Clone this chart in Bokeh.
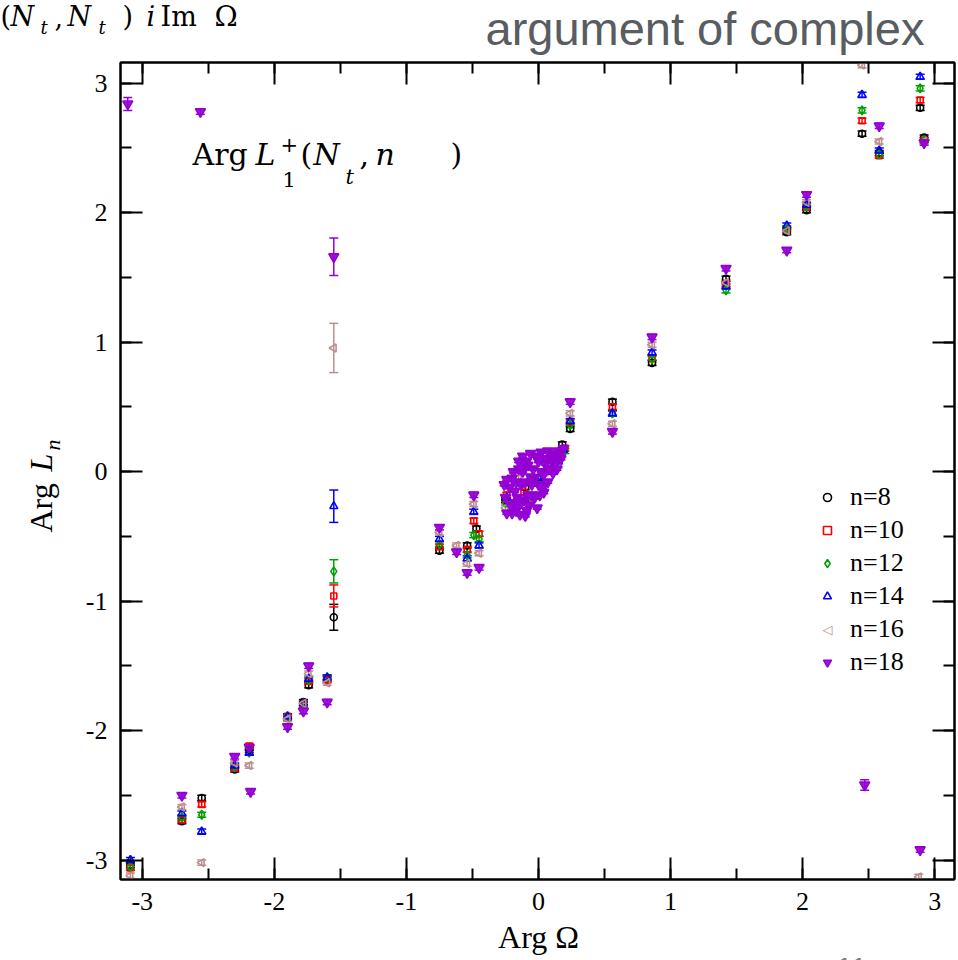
import numpy as np
from bokeh.plotting import figure
from bokeh.models import (Range1d, LinearAxis, SingleIntervalTicker, ColumnDataSource,
                          Whisker, TeeHead, Legend, LegendItem)
from bokeh.embed import file_html
from bokeh.resources import INLINE

# ---------------- data ----------------
labels = ["n=8", "n=10", "n=12", "n=14", "n=16", "n=18"]
colors = ["black", "#ff0000", "#00a000", "#0000ff", "#bc8f8f", "#9400d3"]

x_n8 = [-3.09, -2.70, -2.55, -2.30, -2.19, -1.90, -1.78, -1.74, -1.60, -1.55, -0.75, -0.54, -0.47, -0.25,
        -0.10, 0.00, 0.12, 0.18, 0.24, 0.56, 0.86, 1.42, 1.88, 2.03, 2.45, 2.58, 2.89, 2.92]
y_n8 = [-3.04, -2.70, -2.52, -2.30, -2.15, -1.90, -1.78, -1.65, -1.60, -1.125, -0.61, -0.57, -0.44, -0.22,
        -0.12, -0.05, 0.08, 0.21, 0.33, 0.54, 0.84, 1.49, 1.85, 2.02, 2.61, 2.46, 2.81, 2.58]
e_n8 = [0.02, 0.02, 0.02, 0.02, 0.02, 0.02, 0.02, 0.02, 0.02, 0.10, 0.02, 0.02, 0.02, 0.02,
        0.02, 0.02, 0.02, 0.02, 0.02, 0.02, 0.02, 0.02, 0.02, 0.02, 0.02, 0.02, 0.02, 0.02]

x_n10 = [-3.09, -2.70, -2.55, -2.30, -2.19, -1.90, -1.78, -1.74, -1.60, -1.55, -0.75, -0.54, -0.49, -0.45,
         -0.24, -0.11, 0.16, 0.20, 0.24, 0.56, 0.86, 1.42, 1.88, 2.03, 2.45, 2.58, 2.89, 2.92]
y_n10 = [-3.06, -2.69, -2.57, -2.29, -2.12, -1.89, -1.80, -1.62, -1.61, -0.96, -0.58, -0.60, -0.38, -0.48,
         -0.18, -0.16, 0.12, 0.18, 0.38, 0.50, 0.88, 1.45, 1.87, 2.04, 2.71, 2.44, 2.87, 2.56]
e_n10 = [0.02, 0.02, 0.02, 0.02, 0.02, 0.02, 0.02, 0.02, 0.02, 0.085, 0.02, 0.02, 0.02, 0.02,
         0.02, 0.02, 0.02, 0.02, 0.02, 0.02, 0.02, 0.02, 0.02, 0.02, 0.02, 0.02, 0.02, 0.02]

x_n12 = [-3.09, -2.70, -2.55, -2.30, -2.19, -1.90, -1.78, -1.74, -1.60, -1.55, -0.75, -0.54, -0.49, -0.45,
         -0.25, -0.05, 0.14, 0.20, 0.24, 0.56, 0.86, 1.42, 1.88, 2.03, 2.45, 2.58, 2.89, 2.92]
y_n12 = [-3.05, -2.67, -2.65, -2.28, -2.17, -1.90, -1.79, -1.61, -1.59, -0.77, -0.56, -0.645, -0.49, -0.52,
         -0.24, -0.20, 0.10, 0.16, 0.36, 0.45, 0.87, 1.40, 1.88, 2.05, 2.79, 2.45, 2.96, 2.56]
e_n12 = [0.02, 0.02, 0.02, 0.02, 0.02, 0.02, 0.02, 0.02, 0.02, 0.09, 0.02, 0.02, 0.02, 0.02,
         0.02, 0.02, 0.02, 0.02, 0.02, 0.02, 0.02, 0.02, 0.02, 0.02, 0.02, 0.02, 0.02, 0.02]

x_n14 = [-3.09, -2.70, -2.55, -2.30, -2.19, -1.90, -1.78, -1.74, -1.60, -1.55, -0.75, -0.54, -0.49, -0.45,
         -0.24, -0.10, 0.02, 0.15, 0.19, 0.24, 0.56, 0.86, 1.42, 1.88, 2.03, 2.45, 2.58, 2.89]
y_n14 = [-3.00, -2.64, -2.78, -2.27, -2.17, -1.89, -1.79, -1.60, -1.59, -0.267, -0.52, -0.67, -0.31, -0.57,
         -0.20, -0.22, -0.08, 0.08, 0.17, 0.39, 0.45, 0.92, 1.43, 1.90, 2.06, 2.91, 2.48, 3.05]
e_n14 = [0.02, 0.02, 0.02, 0.02, 0.02, 0.02, 0.02, 0.02, 0.02, 0.125, 0.02, 0.02, 0.02, 0.02,
         0.02, 0.02, 0.02, 0.02, 0.02, 0.02, 0.02, 0.02, 0.02, 0.02, 0.02, 0.02, 0.02, 0.02]

x_n16 = [-3.09, -2.70, -2.55, -2.30, -2.19, -1.90, -1.78, -1.74, -1.60, -1.55, -0.75, -0.62, -0.54, -0.49,
         -0.45, -0.25, -0.15, -0.05, 0.05, 0.15, 0.24, 0.56, 0.86, 1.42, 1.88, 2.03, 2.45, 2.58, 2.92, 2.88]
y_n16 = [-3.12, -2.59, -3.02, -2.25, -2.27, -1.91, -1.79, -1.56, -1.63, 0.955, -0.47, -0.57, -0.71, -0.25,
         -0.63, -0.28, -0.05, -0.25, 0.00, 0.05, 0.45, 0.37, 0.98, 1.46, 1.86, 2.08, 3.14, 2.55, 2.55, -3.13]
e_n16 = [0.02, 0.02, 0.02, 0.02, 0.02, 0.02, 0.02, 0.02, 0.02, 0.19, 0.02, 0.02, 0.02, 0.02,
         0.02, 0.02, 0.02, 0.02, 0.02, 0.02, 0.02, 0.02, 0.02, 0.02, 0.02, 0.02, 0.02, 0.02, 0.02, 0.02]

x_n18 = [-3.11, -2.56, -2.70, -2.30, -2.19, -2.18, -1.90, -1.78, -1.74, -1.60, -1.55, -0.75, -0.62, -0.54,
         -0.49, -0.45,
         -0.26, -0.25, -0.24, -0.20, -0.18, -0.15, -0.12, -0.10, -0.08, -0.06, -0.05, -0.03, 0.00, 0.02,
         0.04, 0.06, 0.08, 0.10, 0.12, 0.15, -0.10, -0.01, 0.03, -0.14,
         -0.22, -0.21, -0.17, -0.16, -0.13, -0.12, -0.09, -0.07, -0.05, -0.04, -0.02, 0.01, 0.02, 0.05,
         0.07, 0.09, 0.11, 0.13, 0.17, 0.19, -0.19,
         -0.24, -0.20, -0.18, -0.14, -0.11, -0.09, -0.08, -0.06, -0.03, -0.15, -0.10, 0.00, 0.04, 0.07,
         0.14, 0.16, -0.17,
         0.24, 0.56, 0.86, 1.42, 1.88, 2.03, 2.58, 2.92, 2.47, 2.89]
y_n18 = [2.84, 2.78, -2.50, -2.20, -2.13, -2.47, -1.97, -1.85, -1.50, -1.78, 1.66, -0.43, -0.62, -0.78,
         -0.18, -0.74,
         -0.10, -0.20, -0.32, -0.05, -0.15, 0.02, 0.12, -0.08, 0.05, 0.14, -0.18, -0.05, 0.08, 0.15,
         -0.02, 0.10, 0.02, 0.14, 0.06, 0.16, -0.34, -0.28, -0.12, -0.25,
         -0.12, -0.26, -0.30, -0.20, -0.10, 0.00, 0.08, -0.26, -0.10, 0.02, 0.12, -0.18, 0.00, 0.06,
         -0.08, 0.10, -0.01, 0.12, 0.10, 0.18, 0.00,
         -0.06, -0.32, -0.24, -0.33, -0.22, -0.30, -0.18, -0.04, -0.20, 0.08, 0.04, -0.10, -0.16, 0.16,
         0.02, 0.14, -0.08,
         0.54, 0.31, 1.04, 1.57, 1.71, 2.14, 2.67, 2.54, -2.42, -2.92]
e_n18 = [0.05, 0.02, 0.02, 0.02, 0.02, 0.02, 0.02, 0.02, 0.02, 0.02, 0.145, 0.02, 0.02, 0.02,
         0.02, 0.02,
         0.01, 0.01, 0.01, 0.01, 0.01, 0.01, 0.01, 0.01, 0.01, 0.01, 0.01, 0.01, 0.01, 0.01,
         0.01, 0.01, 0.01, 0.01, 0.01, 0.01, 0.01, 0.01, 0.01, 0.01,
         0.01, 0.01, 0.01, 0.01, 0.01, 0.01, 0.01, 0.01, 0.01, 0.01, 0.01, 0.01, 0.01, 0.01,
         0.01, 0.01, 0.01, 0.01, 0.01, 0.01, 0.01,
         0.01, 0.01, 0.01, 0.01, 0.01, 0.01, 0.01, 0.01, 0.01, 0.01, 0.01, 0.01, 0.01, 0.01,
         0.01, 0.01, 0.01,
         0.02, 0.02, 0.02, 0.02, 0.02, 0.02, 0.02, 0.02, 0.04, 0.02]

x_ticks = [-3, -2, -1, 0, 1, 2, 3]
y_ticks = [-3, -2, -1, 0, 1, 2, 3]

series_x = [x_n8, x_n10, x_n12, x_n14, x_n16, x_n18]
series_y = [y_n8, y_n10, y_n12, y_n14, y_n16, y_n18]
series_e = [e_n8, e_n10, e_n12, e_n14, e_n16, e_n18]
markers = ["circle", "square", "diamond", "triangle", "triangle", "inverted_triangle"]
marker_angles = [0.0, 0.0, 0.0, 0.0, np.pi / 2, 0.0]
marker_sizes = [7, 6, 9, 8, 8, 10]
fill_alphas = [0.0, 0.0, 0.0, 0.0, 0.0, 0.9]

# ---------------- figure ----------------
X_RANGE = (-3.165, 3.15)
Y_RANGE = (-3.15, 3.16)
FL, FR, FT, FB = 120, 954, 62, 879  # frame edges in canvas pixels

p = figure(width=958, height=960, x_range=Range1d(*X_RANGE), y_range=Range1d(*Y_RANGE),
           output_backend="svg", toolbar_location=None,
           min_border_left=FL, min_border_right=958 - FR, min_border_top=FT, min_border_bottom=960 - FB,
           background_fill_color="white", border_fill_color="white")
p.xgrid.visible = False
p.ygrid.visible = False
p.outline_line_color = "black"
p.outline_line_width = 2


def style_axis(ax, ticks, show_labels):
    ax.ticker = SingleIntervalTicker(interval=1, num_minor_ticks=2)
    ax.major_tick_in = 22
    ax.major_tick_out = 0
    ax.minor_tick_in = 11
    ax.minor_tick_out = 0
    ax.major_tick_line_width = 2
    ax.minor_tick_line_width = 2
    ax.axis_line_width = 2
    ax.major_tick_line_color = "black"
    ax.minor_tick_line_color = "black"
    ax.axis_line_color = "black"
    ax.major_label_text_font = "Liberation Serif"
    ax.major_label_text_font_size = "26px"
    ax.major_label_text_color = "black"
    if show_labels:
        ax.major_label_standoff = 13
        ax.major_label_overrides = {t: str(t) for t in ticks}
    else:
        ax.major_label_standoff = 0
        ax.major_label_overrides = {t: "" for t in ticks}


style_axis(p.xaxis[0], x_ticks, True)
style_axis(p.yaxis[0], y_ticks, True)
top_ax = LinearAxis()
right_ax = LinearAxis()
style_axis(top_ax, x_ticks, False)
style_axis(right_ax, y_ticks, False)
p.add_layout(top_ax, "above")
p.add_layout(right_ax, "right")

renderers = []
for xs, ys, es, col, mk, ang, sz, fa in zip(series_x, series_y, series_e, colors, markers,
                                             marker_angles, marker_sizes, fill_alphas):
    xs = np.array(xs)
    ys = np.array(ys)
    es = np.array(es)
    src = ColumnDataSource(dict(x=xs, y=ys, lo=ys - es, hi=ys + es, ang=[ang] * len(xs)))
    w = Whisker(base="x", lower="lo", upper="hi", source=src, dimension="height",
                line_color=col, line_width=1.5,
                lower_head=TeeHead(size=9, line_color=col, line_width=1.5),
                upper_head=TeeHead(size=9, line_color=col, line_width=1.5))
    p.add_layout(w)
    r = p.scatter("x", "y", source=src, marker=mk, size=sz, angle="ang",
                  line_color=col, line_width=1.6, fill_color=col, fill_alpha=fa)
    renderers.append(r)

# the legend cannot rotate a marker, so the left-pointing triangle of n=16 is drawn as a symbol
legend_renderers = list(renderers)
legend_renderers[4] = p.scatter(x=[], y=[], marker="triangle", size=8, line_alpha=0, fill_alpha=0)

legend = Legend(items=[LegendItem(label=lab, renderers=[r]) for lab, r in zip(labels, legend_renderers)],
                location=(697, 202), label_text_font="Liberation Serif", label_text_font_size="26px",
                label_text_color="black",
                glyph_width=20, glyph_height=20, label_standoff=13, spacing=3, padding=0, margin=0,
                border_line_alpha=0, background_fill_alpha=0)
p.add_layout(legend)

# ---------------- texts (anchored at the frame centre, shifted in pixels) ----------------
xm = (X_RANGE[0] + X_RANGE[1]) / 2
ym = (Y_RANGE[0] + Y_RANGE[1]) / 2
cx = (FL + FR) / 2
cy = (FT + FB) / 2
K = 0.37  # measured baseline drift of the text glyph, in em

T = dict(text=[], xo=[], yo=[], size=[], style=[], font=[], color=[], align=[], angle=[])


def txt(xc, yc, text, size, style="normal", font="Liberation Serif", color="black",
        align="left", angle=0.0):
    if angle == 0.0:
        yc = yc - K * size
    else:
        xc = xc - K * size
    T["text"].append(text)
    T["xo"].append(xc - cx)
    T["yo"].append(yc - cy)
    T["size"].append(f"{size}px")
    T["style"].append(style)
    T["font"].append(font)
    T["color"].append(color)
    T["align"].append(align)
    T["angle"].append(angle)


MATH = "DejaVu Serif"
# top-left formula  (N_t, N_t) iImΩ
txt(0, 26, "(", 27, font=MATH)
txt(10, 26, "N", 27, "italic", font=MATH)
txt(40, 34, "t", 18, "italic", font=MATH)
txt(54, 26, ",", 27, font=MATH)
txt(67, 26, "N", 27, "italic", font=MATH)
txt(98, 34, "t", 18, "italic", font=MATH)
txt(122, 26, ")", 27, font=MATH)
txt(146, 26, "i", 27, "italic", font=MATH)
txt(160, 26, "Im", 27, font=MATH)
txt(214, 26, "Ω", 28, font=MATH)

# slide heading
txt(485, 45, "argument of complex", 47, font="Liberation Sans", color="#595c61")

# in-plot formula  Arg L1+(Nt, n )
txt(192, 165, "Arg", 30, font=MATH)
txt(255, 165, "L", 30, "italic", font=MATH)
txt(280, 152, "+", 21, font=MATH)
txt(282, 187, "1", 21, font=MATH)
txt(300, 165, "(", 30, font=MATH)
txt(313, 165, "N", 30, "italic", font=MATH)
txt(345, 184, "t", 21, "italic", font=MATH)
txt(359, 165, ",", 30, font=MATH)
txt(375, 165, "n", 30, "italic", font=MATH)
txt(450, 165, ")", 30, font=MATH)

# axis titles
txt(538, 948, "Arg Ω", 32, align="center")
txt(52, 532, "Arg", 32, angle=np.pi / 2)
txt(52, 471, "L", 32, "italic", angle=np.pi / 2)
txt(60, 450, "n", 22, "italic", angle=np.pi / 2)

# legend symbol for n=16 (left-pointing triangle)
txt(827, 634, "◁", 13, font="DejaVu Sans", color=colors[4], align="center")

# page number (cut at bottom, as in the slide)
txt(851, 979, "11", 30, font="Liberation Sans", color="#7f7f7f", align="center")

n_txt = len(T["text"])
tsrc = ColumnDataSource(dict(x=[xm] * n_txt, y=[ym] * n_txt, **T))
p.text(x="x", y="y", text="text", x_offset="xo", y_offset="yo", angle="angle",
       text_font="font", text_font_size="size", text_font_style="style", text_color="color",
       text_align="align", text_baseline="alphabetic", source=tsrc, level="overlay")

open("out.html", "w").write(file_html(p, INLINE))
